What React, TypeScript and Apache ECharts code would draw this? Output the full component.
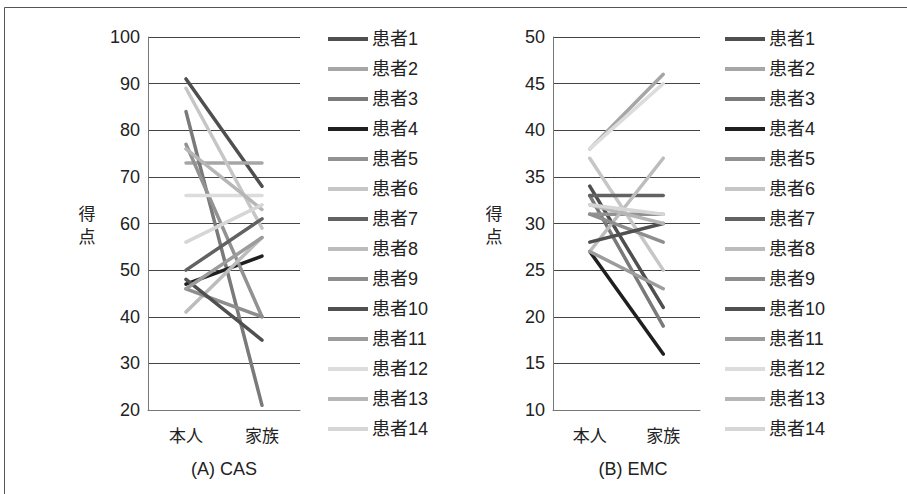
import React, { useEffect, useRef } from "react";
import * as echarts from "echarts";

const categories = ["本人", "家族"];
const patients = ["患者1", "患者2", "患者3", "患者4", "患者5", "患者6", "患者7", "患者8", "患者9", "患者10", "患者11", "患者12", "患者13", "患者14"];
const casSelf = [91, 73, 84, 47, 77, 89, 50, 41, 46, 48, 46, 66, 76, 56];
const casFamily = [68, 73, 21, 53, 40, 59, 61, 57, 40, 35, 57, 66, 63, 64];
const emcSelf = [34, 38, 33, 27, 31, 37, 33, 27, 31, 28, 27, 38, 32, 32];
const emcFamily = [21, 46, 19, 16, 31, 25, 33, 37, 28, 30, 23, 45, 30, 31];
const casTitle = "(A) CAS";
const emcTitle = "(B) EMC";
const yName = "得\n点";

const palette = ["#4f4f4f", "#a6a6a6", "#7a7a7a", "#1f1f1f", "#929292", "#c6c6c6", "#626262", "#bcbcbc", "#8e8e8e", "#505050", "#9c9c9c", "#dcdcdc", "#b6b6b6", "#d6d6d6"];

const FONT = "'Liberation Sans', 'Noto Sans CJK JP', sans-serif";

export default function App() {
  const ref = useRef<HTMLDivElement>(null);
  useEffect(() => {
    document.body.style.margin = "0";
    const chart = echarts.init(ref.current!, undefined, { renderer: "svg" });
    const yCommon = (min: number, max: number, interval: number) => ({
      type: "value",
      min,
      max,
      interval,
      axisLine: { show: true, lineStyle: { color: "#777", width: 1 } },
      axisTick: { show: false },
      axisLabel: { color: "#222", fontSize: 18, fontFamily: FONT, margin: 8 },
      splitLine: { show: true, lineStyle: { color: "#444", width: 1 } },
    });
    const xCommon = (gridIndex: number) => ({
      type: "category",
      gridIndex,
      data: categories,
      boundaryGap: true,
      axisLine: { show: true, lineStyle: { color: "#777", width: 1 } },
      axisTick: { show: false },
      axisLabel: { color: "#222", fontSize: 17, fontFamily: FONT, margin: 18 },
    });
    const series: any[] = [];
    patients.forEach((name, i) => {
      series.push({
        type: "line",
        name,
        xAxisIndex: 0,
        yAxisIndex: 0,
        data: [casSelf[i], casFamily[i]],
        symbol: "none",
        lineStyle: { color: palette[i], width: 3.5, cap: "round" },
        itemStyle: { color: palette[i] },
      });
    });
    patients.forEach((name, i) => {
      series.push({
        type: "line",
        name,
        xAxisIndex: 1,
        yAxisIndex: 1,
        data: [emcSelf[i], emcFamily[i]],
        symbol: "none",
        lineStyle: { color: palette[i], width: 3.5, cap: "round" },
        itemStyle: { color: palette[i] },
      });
    });
    const legendCommon = {
      orient: "vertical",
      top: 30,
      padding: 0,
      itemWidth: 40,
      itemHeight: 14,
      itemGap: 12,
      icon: "path://M0,0L40,0L40,4L0,4Z",
      selectedMode: false,
      data: patients,
      textStyle: { color: "#222", fontSize: 18, fontFamily: FONT, lineHeight: 17, padding: [0, 0, 0, -1] },
    };
    chart.setOption({
      animation: false,
      backgroundColor: "#ffffff",
      grid: [
        { left: 148, top: 37, width: 152, height: 373 },
        { left: 553, top: 37, width: 147, height: 373 },
      ],
      xAxis: [xCommon(0), xCommon(1)],
      yAxis: [
        { ...yCommon(20, 100, 10), gridIndex: 0 },
        { ...yCommon(10, 50, 5), gridIndex: 1 },
      ],
      legend: [
        { ...legendCommon, left: 328 },
        { ...legendCommon, left: 725 },
      ],
      graphic: [
        { type: "rect", shape: { x: 4.5, y: 7.5, width: 1000, height: 1000 }, style: { fill: "none", stroke: "#555", lineWidth: 1 }, silent: true },
        { type: "text", x: 87, y: 226, style: { text: yName, fill: "#222", font: `17px ${FONT}`, align: "center", verticalAlign: "middle", lineHeight: 23 } },
        { type: "text", x: 494, y: 226, style: { text: yName, fill: "#222", font: `17px ${FONT}`, align: "center", verticalAlign: "middle", lineHeight: 23 } },
        { type: "text", x: 224, y: 469, style: { text: casTitle, fill: "#222", font: `18px ${FONT}`, align: "center", verticalAlign: "middle" } },
        { type: "text", x: 633, y: 469, style: { text: emcTitle, fill: "#222", font: `18px ${FONT}`, align: "center", verticalAlign: "middle" } },
      ],
      series,
    });
    return () => chart.dispose();
  }, []);
  return <div ref={ref} style={{ width: 907, height: 494 }} />;
}
